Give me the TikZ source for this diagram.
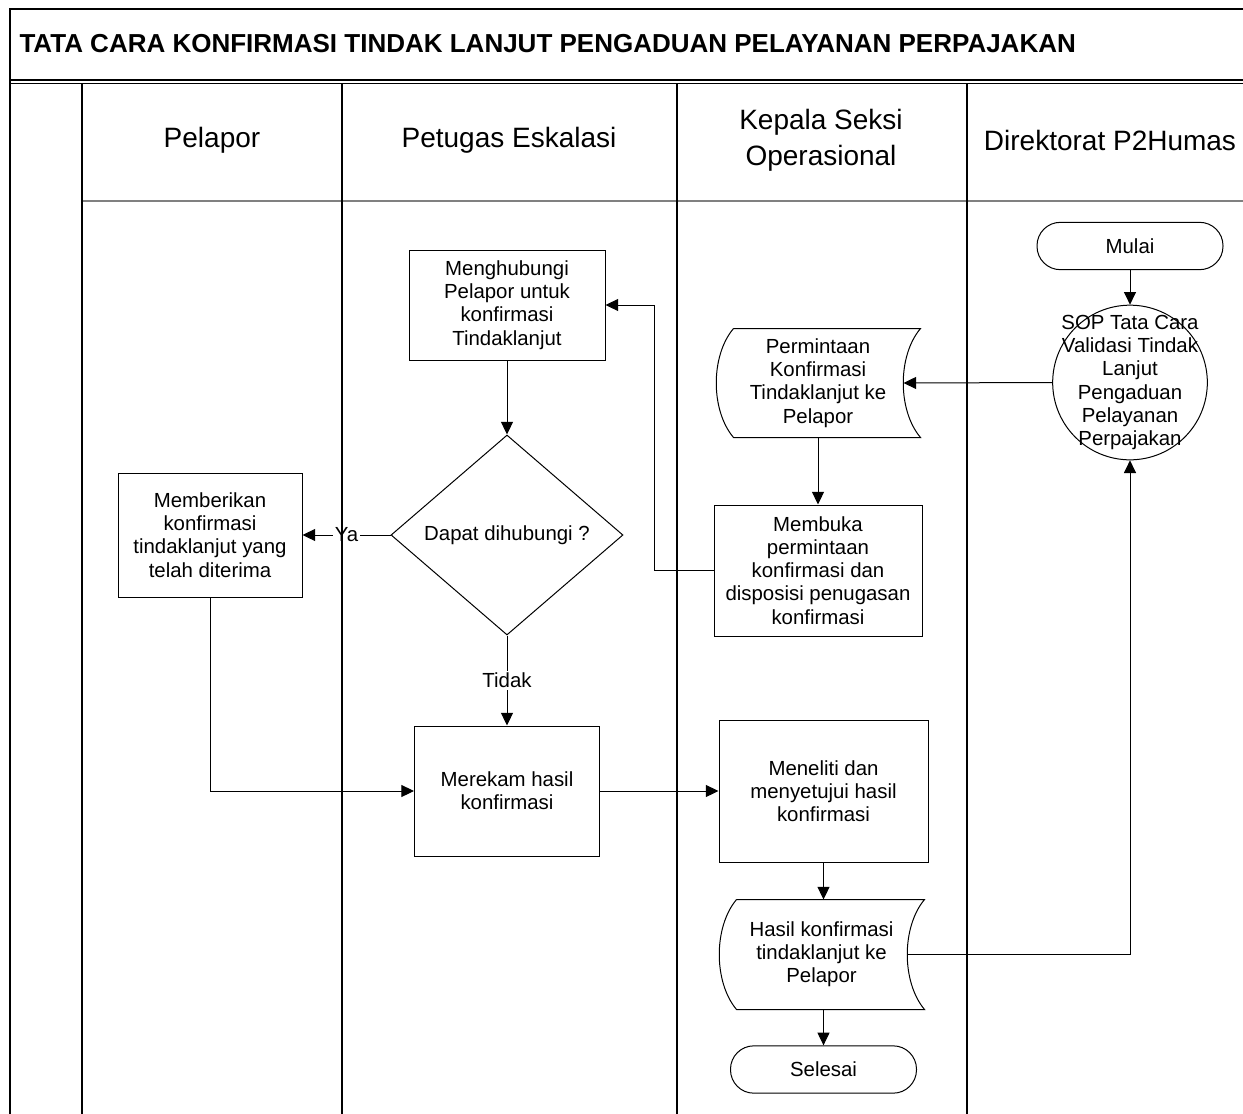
\documentclass[tikz,border=0pt]{standalone}
\usepackage{fontspec}
\setmainfont{Liberation Sans}
\usetikzlibrary{arrows.meta,shapes.geometric,calc}

\tikzset{every picture/.style={line width=0.75pt}}
\tikzset{
  txt/.style={font=\fontsize{15.3}{17.4}\selectfont, align=center},
  proc/.style={txt, draw, rectangle, inner sep=2pt},
  term/.style={txt, draw, rectangle, rounded corners=17.5pt, minimum width=139.5pt, minimum height=35.5pt},
  decision/.style={draw, diamond, minimum width=174pt, minimum height=150pt, inner sep=0pt},
  docnode/.style={txt, rectangle, inner sep=2pt},
  lanehead/.style={font=\fontsize{21}{27}\selectfont, align=center},
  lane/.style={line width=1.2pt},
  flow/.style={-{Triangle[length=9.5pt,width=9pt]}},
  lbl/.style={txt, fill=white, inner sep=1.5pt}
}
% stored data shape round a named node
\newcommand{\docshape}[1]{%
  \draw ([xshift=6.75pt]#1.north west) -- ([xshift=6.75pt]#1.north east)
    .. controls ([xshift=-10.5pt]$(#1.north east)!0.25!(#1.south east)$)
       and ([xshift=-10.5pt]$(#1.north east)!0.75!(#1.south east)$) .. ([xshift=6.75pt]#1.south east)
    -- ([xshift=6.75pt]#1.south west)
    .. controls ([xshift=-10.5pt]$(#1.south west)!0.25!(#1.north west)$)
       and ([xshift=-10.5pt]$(#1.south west)!0.75!(#1.north west)$) .. ([xshift=6.75pt]#1.north west);}

\begin{document}
\begin{tikzpicture}[x=0.75pt,y=0.75pt,yscale=-1,xscale=1]
\useasboundingbox (0,0) rectangle (1243,1114);

%Title
\node[anchor=west, font=\bfseries\fontsize{19.5}{22}\selectfont, inner sep=0pt] (judul) at (19,44) {TATA CARA KONFIRMASI TINDAK LANJUT PENGADUAN PELAYANAN PERPAJAKAN};

%Lane headers
\node[lanehead] (hpelapor) at (212,140) {Pelapor};
\node[lanehead] (hpetugas) at (509,140) {Petugas Eskalasi};
\node[lanehead] (hkasi) at (821,140) {Kepala Seksi\\Operasional};
\node[lanehead] (hdit) at (1110,140) {Direktorat P2Humas};

%Direktorat P2Humas
\node[term] (mulai) at (1130,246) {Mulai};
\node[draw, circle, minimum size=116pt, inner sep=0pt] (sop) at (1130,382.5) {};
\node[txt] (soptext) at (sop) {SOP Tata Cara\\Validasi Tindak\\Lanjut\\Pengaduan\\Pelayanan\\Perpajakan};

%Kepala Seksi Operasional
\node[docnode, minimum width=139.5pt, minimum height=81pt] (minta) at (818,383) {Permintaan\\Konfirmasi\\Tindaklanjut ke\\Pelapor};
\docshape{minta}
\node[proc, minimum width=156pt, minimum height=98.25pt] (buka) at (818,570.5) {Membuka\\permintaan\\konfirmasi dan\\disposisi penugasan\\konfirmasi};
\node[proc, minimum width=156.75pt, minimum height=106.5pt] (teliti) at (823.5,791) {Meneliti dan\\menyetujui hasil\\konfirmasi};
\node[docnode, minimum width=140.25pt, minimum height=81.75pt] (hasil) at (821.5,954.5) {Hasil konfirmasi\\tindaklanjut ke\\Pelapor};
\docshape{hasil}
\node[term] (selesai) at (823.5,1069.5) {Selesai};

%Petugas Eskalasi
\node[proc, minimum width=147pt, minimum height=82.5pt] (hubungi) at (507,305) {Menghubungi\\Pelapor untuk\\konfirmasi\\Tindaklanjut};
\node[decision] (dapat) at (507,535) {};
\node[txt] (dapattext) at (dapat) {Dapat dihubungi ?};
\node[proc, minimum width=138.75pt, minimum height=97.5pt] (rekam) at (507,791) {Merekam hasil\\konfirmasi};

%Pelapor
\node[proc, minimum width=138pt, minimum height=93pt] (beri) at (210,535) {Memberikan\\konfirmasi\\tindaklanjut yang\\telah diterima};

%Connectors
\draw[flow] (mulai) -- (sop.north);
\draw[flow] (sop.west) -- ([xshift=-6pt]minta.east);
\draw[flow] (minta.south) -- (minta.south |- buka.north);
\draw[flow] (buka.west) -- ++(-59,0) |- (hubungi.east);
\draw[flow] (hubungi) -- (dapat.north);
\draw[flow] (dapat.west) -- node[lbl] {Ya} (beri.east);
\draw[flow] (dapat.south) -- node[lbl] {Tidak} (rekam.north);
\draw[flow] (beri.south) |- (rekam.west);
\draw[flow] (rekam.east) -- (teliti.west);
\draw[flow] (teliti.south) -- (teliti.south |- hasil.north);
\draw[flow] ([xshift=-6pt]hasil.east) -| (sop.south);
\draw[flow] (selesai.north |- hasil.south) -- (selesai.north);

%Frame and lanes
\draw[lane] (10,1114) -- (10,9) -- (1243,9);
\draw[line width=1pt] (10,80) -- (1243,80);
\draw (10,83) -- (1243,83);
\draw[gray, line width=1.2pt] (82,201) -- (1243,201);
\draw[lane] (82,83) -- (82,1114);
\draw[lane] (342,83) -- (342,1114);
\draw[lane] (677,83) -- (677,1114);
\draw[lane] (967,83) -- (967,1114);
\end{tikzpicture}
\end{document}
